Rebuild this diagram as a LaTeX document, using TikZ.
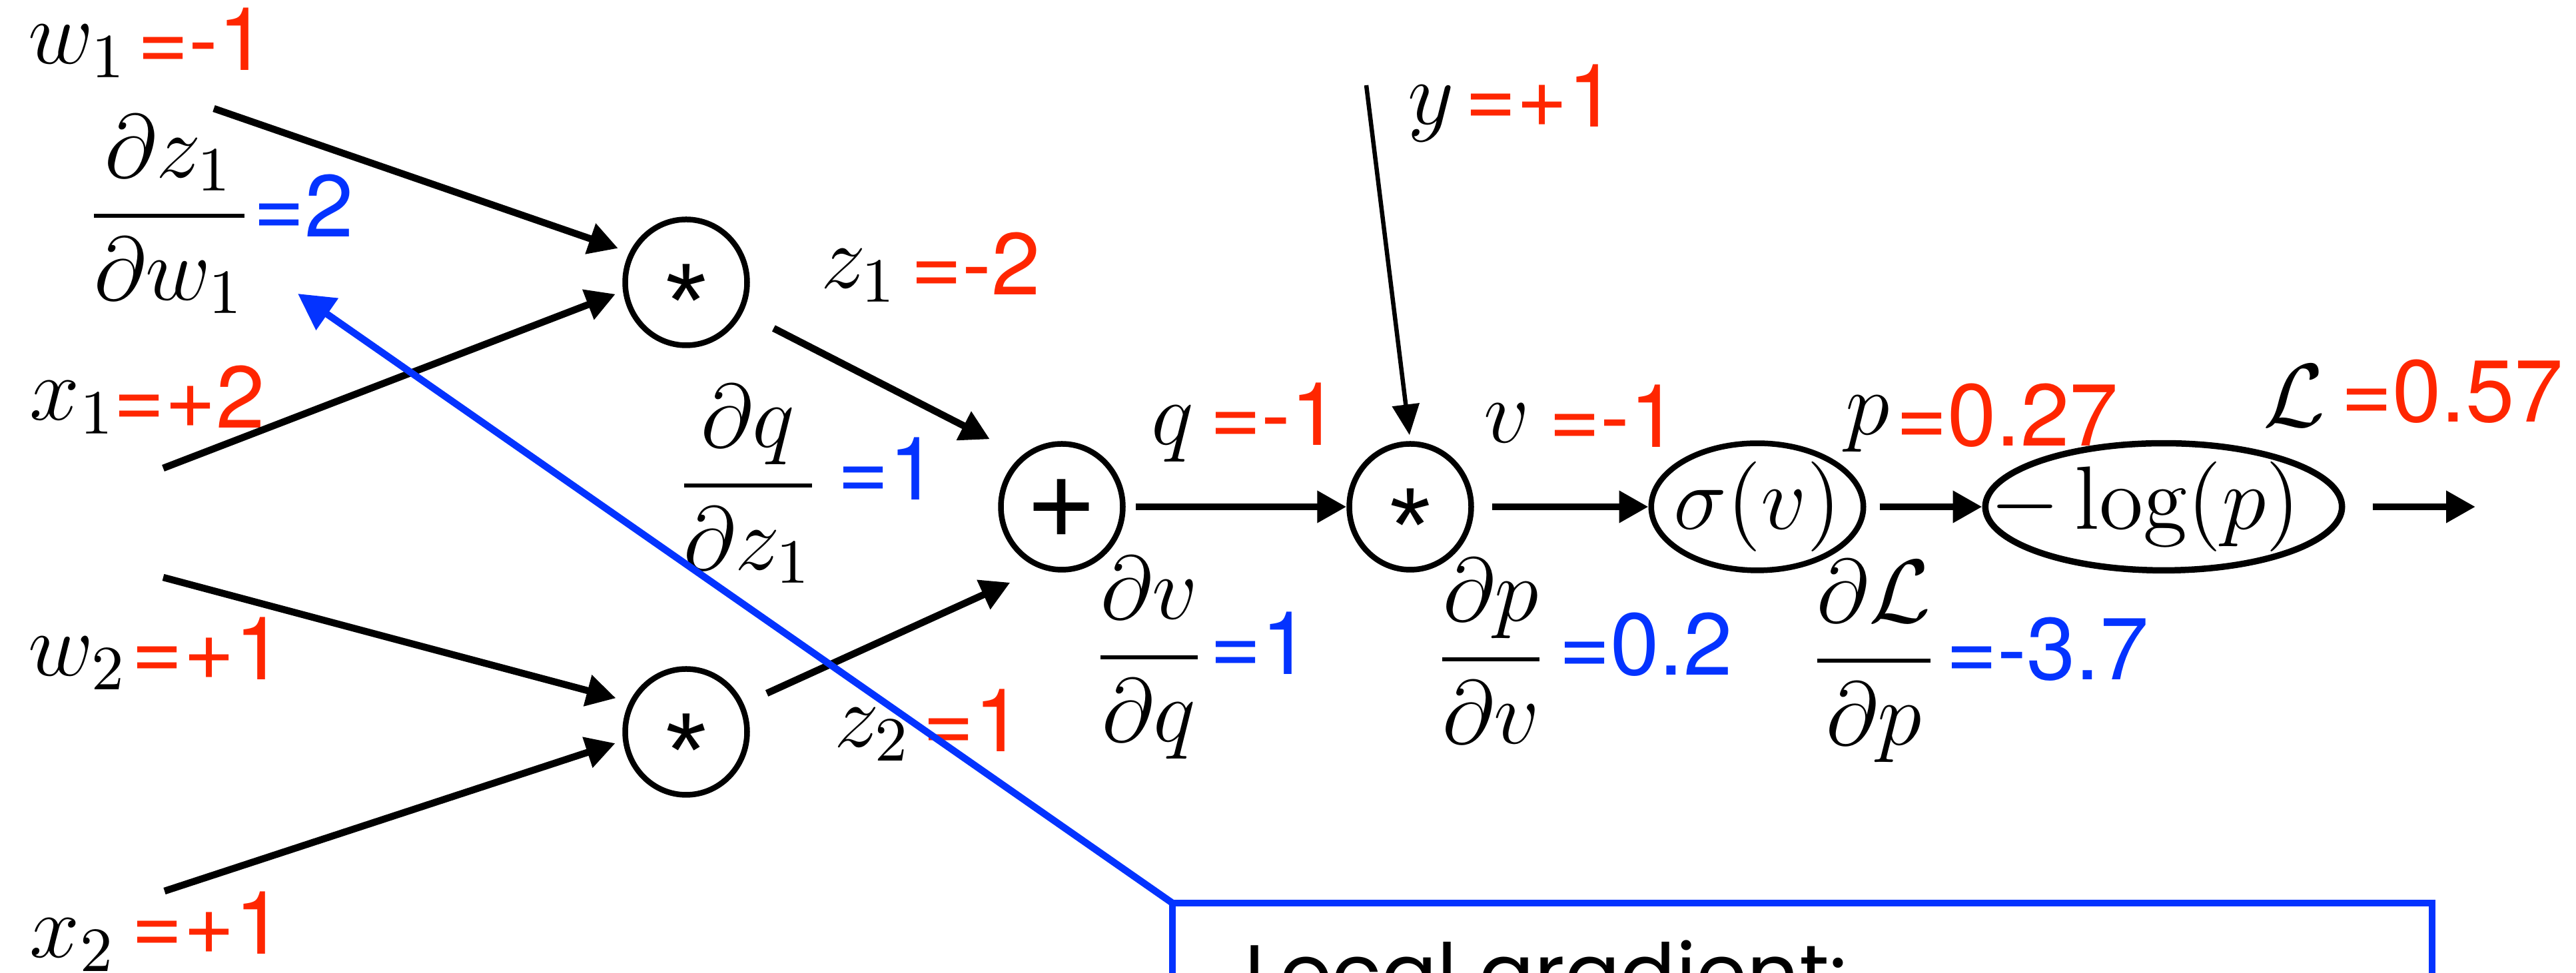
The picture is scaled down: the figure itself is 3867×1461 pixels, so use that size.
\RequirePackage{fix-cm}
\documentclass[tikz,border=0pt]{standalone}
\usepackage{fontspec}
\usepackage{amsmath}
\usetikzlibrary{arrows.meta,shapes.geometric}
\newfontfamily\numfont{TeX Gyre Heros}
\newfontfamily\starfont{Liberation Sans}
\newfontfamily\boxfont{Poppins}
\definecolor{nred}{RGB}{255,38,0}
\definecolor{nblue}{RGB}{4,51,255}
\newcommand{\mystar}{\makebox[0pt]{\raisebox{-8.2pt}[0pt][0pt]{\starfont\fontsize{15.8pt}{16pt}\selectfont *}}}
\newcommand{\myplus}{\makebox[0pt]{\raisebox{-4.7pt}[0pt][0pt]{\numfont\fontsize{18.5pt}{18.5pt}\selectfont +}}}
\tikzset{
  arr/.style={line width=1.05pt,-{Triangle[length=4.4pt,width=4.6pt]}},
  thinarr/.style={line width=0.65pt,-{Triangle[length=4.6pt,width=4pt]}},
  gradarr/.style={draw=nblue,line width=1.05pt,-{Triangle[length=5.4pt,width=5.6pt]}},
  op/.style={draw,ellipse,line width=0.85pt,inner sep=0pt,minimum width=18.3pt,minimum height=18.9pt,font=\fontsize{13.5pt}{16pt}\selectfont},
  mth/.style={inner sep=0pt,anchor=base west,font=\fontsize{13.5pt}{16pt}\selectfont},
  fr/.style={inner sep=0pt,anchor=base,font=\fontsize{13.5pt}{16pt}\selectfont},
  rnum/.style={inner sep=0pt,anchor=base west,text=nred,font=\numfont\fontsize{13.2pt}{15pt}\selectfont},
  bnum/.style={rnum,text=nblue},
}
\begin{document}
\begin{tikzpicture}[x=0.1pt,y=-0.1pt]
\useasboundingbox (0,0) rectangle (3867,1461);
\clip (0,0) rectangle (3867,1461);

% operation nodes
\node[op] (m1) at (1030,424) {\mystar};
\node[op] (m2) at (1030,1099) {\mystar};
\node[op] (add) at (1594,761) {\myplus};
\node[op] (m3) at (2117,761) {\mystar};
\node[op,minimum width=31.85pt] (sig) at (2638,761) {\makebox[0pt]{$\sigma(v)$}};
\node[op,minimum width=53.55pt,line width=0.95pt] (log) at (3248,761) {\makebox[0pt]{$-\log(p)$\hspace{5.6pt}}};

% free ends
\coordinate (cw1) at (321,163);
\coordinate (cx1) at (245,703);
\coordinate (cw2) at (245,867);
\coordinate (cx2) at (247,1338);
\coordinate (cy) at (2051,128);
\coordinate (cout) at (3716,761);
\coordinate (gtip) at (447,441);

% value labels
\node[mth] (lw1) at (41,96) {$w_1$};
\node[rnum] (nw1) at (204,106) {=-1};
\node[mth] (lx1) at (43,631) {$x_1$};
\node[rnum] (nx1) at (168,643) {=+2};
\node[mth] (lw2) at (41,1015) {$w_2$};
\node[rnum] (nw2) at (196,1021) {=+1};
\node[mth] (lx2) at (43,1438) {$x_2$};
\node[rnum] (nx2) at (196,1433) {=+1};
\node[mth] (lz1) at (1230,433) {$z_1$};
\node[rnum] (nz1) at (1365,443) {=-2};
\node[mth] (lz2) at (1250,1122) {$z_2$};
\node[rnum] (nz2) at (1383,1129) {=1};
\node[mth] (ly) at (2111,187) {$y$};
\node[rnum] (ny) at (2197,191) {=+1};
\node[mth] (lq) at (1726,668) {$q$};
\node[rnum] (nq) at (1814,669) {=-1};
\node[mth] (lv) at (2225,665) {$v$};
\node[rnum] (nv) at (2323,672) {=-1};
\node[mth] (lp) at (2768,653) {$p$};
\node[rnum] (np) at (2844,670) {=0.27};
\node[mth] (lL) at (3395,641) {$\mathcal{L}$};
\node[rnum] (nL) at (3512,634) {=0.57};

% local gradients
\node[fr] (f1) at (254,358) {$\displaystyle\frac{\partial z_1}{\partial w_1}$};
\node[bnum] (g1) at (378,356) {=2};
\node[fr] (fq) at (1123,763) {$\displaystyle\frac{\partial q}{\partial z_1}$};
\node[bnum] (gq) at (1255,751) {=1};
\node[fr] (fv) at (1725,1021) {$\displaystyle\frac{\partial v}{\partial q}$};
\node[bnum] (gv) at (1814,1013) {=1};
\node[fr] (fp) at (2238,1024) {$\displaystyle\frac{\partial p}{\partial v}$};
\node[bnum] (gp) at (2338,1014) {=0.2};
\node[fr] (fL) at (2813,1026) {$\displaystyle\frac{\partial \mathcal{L}}{\partial p}$};
\node[bnum] (gL) at (2919,1021) {=-3.7};

% connectors
\draw[arr,shorten >=1.8pt] (cw1) -- (m1.152.4);
\draw[arr,shorten >=1.2pt] (cx1) -- (m1.188.3);
\draw[arr,shorten >=2.1pt] (cw2) -- (m2.152.9);
\draw[arr,shorten >=1.2pt] (cx2) -- (m2.188.3);
\draw[arr,shorten <=5.2pt,shorten >=5.4pt] (m1.332.6) -- (add.128.7);
\draw[arr,shorten <=3.8pt,shorten >=5pt] (m2.26) -- (add.251.6);
\draw[thinarr,shorten >=0.9pt] (cy) -- (m3.north);
\draw[arr,shorten <=1.5pt] (add.east) -- (m3.west);
\draw[arr,shorten <=2.7pt] (m3.east) -- (sig.west);
\draw[arr,shorten <=2pt] (sig.east) -- (log.west);
\draw[arr,shorten <=4.1pt] (log.east) -- (cout);

% callout box
\node[draw=nblue,line width=1pt,inner sep=0pt,outer sep=0pt,anchor=north west,minimum width=189.1pt,minimum height=34.4pt] (box) at (1760,1356) {};
\node[inner sep=0pt,anchor=base west,font=\boxfont\fontsize{12.3pt}{14pt}\selectfont] (lg) at (1866,1506) {Local gradient:};
\draw[gradarr] (box.north west) -- (gtip);
\end{tikzpicture}
\end{document}
